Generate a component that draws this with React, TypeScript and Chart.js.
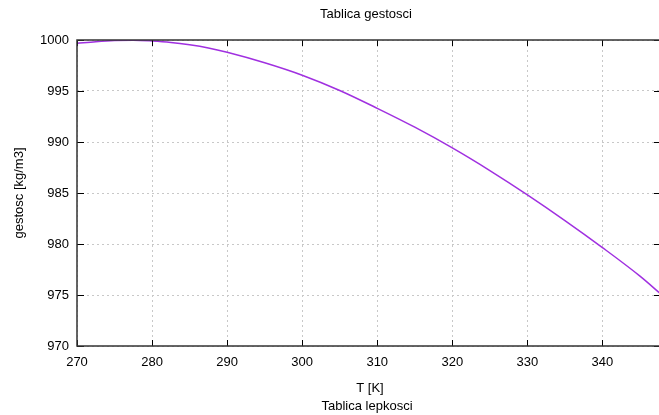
import React, { useEffect, useRef } from 'react';
import { Chart, registerables } from 'chart.js';

Chart.register(...registerables);

const temperatureK = [270, 272.5, 275, 277.5, 280, 282.5, 285, 287.5, 290, 295, 300, 305, 310, 315, 320, 325, 330, 335, 340, 345, 347.8];
const densityKgM3 = [999.68, 999.84, 999.95, 999.98, 999.9, 999.76, 999.53, 999.22, 998.8, 997.77, 996.55, 995.05, 993.3, 991.45, 989.42, 987.2, 984.82, 982.3, 979.65, 976.85, 975.08];
const xTickValues = [270, 280, 290, 300, 310, 320, 330, 340];
const yTickValues = [970, 975, 980, 985, 990, 995, 1000];

const chartTitle = 'Tablica gestosci';
const xTitle = 'T [K]';
const nextTitle = 'Tablica lepkosci';
const yTitle = 'gestosc [kg/m3]';

const FONT = '"Liberation Sans", Arial, sans-serif';

const framePlugin = {
  id: 'gnuFrame',
  afterDraw(chart: any) {
    const { ctx, chartArea, scales } = chart;
    const { left, right, top, bottom } = chartArea;
    const x = scales.x;
    const y = scales.y;
    ctx.save();
    ctx.strokeStyle = '#000';
    ctx.lineWidth = 1;
    ctx.beginPath();
    xTickValues.forEach((v) => {
      const px = Math.round(x.getPixelForValue(v)) + 0.5;
      ctx.moveTo(px, bottom);
      ctx.lineTo(px, bottom - 6);
      ctx.moveTo(px, top);
      ctx.lineTo(px, top + 6);
    });
    yTickValues.forEach((v) => {
      const py = Math.round(y.getPixelForValue(v)) + 0.5;
      ctx.moveTo(left, py);
      ctx.lineTo(left + 7, py);
      ctx.moveTo(right, py);
      ctx.lineTo(right - 7, py);
    });
    ctx.stroke();
    ctx.strokeStyle = '#333';
    ctx.lineWidth = 1.5;
    ctx.strokeRect(left, top, right - left, bottom - top);

    ctx.fillStyle = '#000';
    ctx.font = `13px ${FONT}`;
    ctx.textAlign = 'center';
    ctx.textBaseline = 'middle';
    ctx.fillText(chartTitle, 366, 14);
    ctx.fillText(xTitle, 370, 388);
    ctx.fillText(nextTitle, 367, 406);
    ctx.translate(19, 193);
    ctx.rotate(-Math.PI / 2);
    ctx.fillText(yTitle, 0, 0);
    ctx.restore();
  },
};

export default function App() {
  const ref = useRef<HTMLCanvasElement>(null);
  useEffect(() => {
    if (!ref.current) return;
    const chart = new Chart(ref.current, {
      type: 'line',
      data: {
        datasets: [
          {
            data: temperatureK.map((t, i) => ({ x: t, y: densityKgM3[i] })),
            borderColor: '#a030e0',
            borderWidth: 1.5,
            pointRadius: 0,
            cubicInterpolationMode: 'monotone',
            fill: false,
          },
        ],
      },
      options: {
        animation: false,
        responsive: false,
        maintainAspectRatio: false,
        layout: { padding: { top: 40, right: 1, left: 0, bottom: 0 } },
        plugins: { legend: { display: false }, tooltip: { enabled: false }, title: { display: false } },
        scales: {
          x: {
            type: 'linear',
            min: 270,
            max: 347.8,
            afterBuildTicks: (s: any) => {
              s.ticks = xTickValues.map((v) => ({ value: v }));
            },
            afterFit: (s: any) => {
              s.height = 69;
            },
            grid: { color: '#c8c8c8', lineWidth: 1, drawTicks: false, tickLength: 0 },
            border: { display: false, dash: [2, 3] },
            ticks: { color: '#000', font: { family: FONT, size: 13 }, padding: 9, maxRotation: 0, autoSkip: false, callback: (v: any) => String(v) },
          },
          y: {
            type: 'linear',
            min: 970,
            max: 1000,
            afterBuildTicks: (s: any) => {
              s.ticks = yTickValues.map((v) => ({ value: v }));
            },
            afterFit: (s: any) => {
              s.width = 77;
            },
            grid: { color: '#c8c8c8', lineWidth: 1, drawTicks: false, tickLength: 0 },
            border: { display: false, dash: [2, 3] },
            ticks: { color: '#000', font: { family: FONT, size: 13 }, padding: 8, autoSkip: false, callback: (v: any) => String(v) },
          },
        },
      },
      plugins: [framePlugin],
    });
    return () => chart.destroy();
  }, []);
  return (
    <div style={{ position: 'absolute', left: 0, top: 0, width: 659, height: 415, overflow: 'hidden', background: '#fff' }}>
      <canvas ref={ref} width={662} height={415} style={{ width: 662, height: 415, display: 'block' }} />
    </div>
  );
}
